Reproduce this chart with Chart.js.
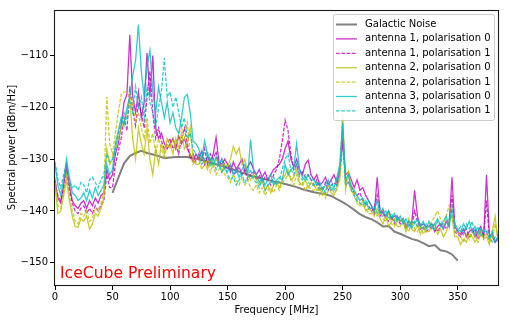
<!DOCTYPE html>
<html>
<head>
<meta charset="utf-8">
<script src="https://cdn.jsdelivr.net/npm/chart.js@4.4.0/dist/chart.umd.min.js"></script>
<style>
  html, body { margin: 0; padding: 0; background: #fff; }
</style>
</head>
<body>
<canvas id="spectrum" width="509" height="323"></canvas>
<script>
// =====================
// data
// =====================
const freq = [
  0, 2.5, 5, 7.5, 10, 12.5, 15, 17.5, 20, 22.5,
  25, 27.5, 30, 32.5, 35, 37.5, 40, 42.5, 45, 47.5,
  50, 52.5, 55, 57.5, 60, 62.5, 65, 67.5, 70, 72.5,
  75, 77.5, 80, 82.5, 85, 87.5, 90, 92.5, 95, 97.5,
  100, 102.5, 105, 107.5, 110, 112.5, 115, 117.5, 120, 122.5,
  125, 127.5, 130, 132.5, 135, 137.5, 140, 142.5, 145, 147.5,
  150, 152.5, 155, 157.5, 160, 162.5, 165, 167.5, 170, 172.5,
  175, 177.5, 180, 182.5, 185, 187.5, 190, 192.5, 195, 197.5,
  200, 202.5, 205, 207.5, 210, 212.5, 215, 217.5, 220, 222.5,
  225, 227.5, 230, 232.5, 235, 237.5, 240, 242.5, 245, 247.5,
  250, 252.5, 255, 257.5, 260, 262.5, 265, 267.5, 270, 272.5,
  275, 277.5, 280, 282.5, 285, 287.5, 290, 292.5, 295, 297.5,
  300, 302.5, 305, 307.5, 310, 312.5, 315, 317.5, 320, 322.5,
  325, 327.5, 330, 332.5, 335, 337.5, 340, 342.5, 345, 347.5,
  350, 352.5, 355, 357.5, 360, 362.5, 365, 367.5, 370, 372.5,
  375, 377.5, 380, 382.5, 385
];

const galFreq = [
  50, 55, 60, 65, 70, 75, 80, 85, 90, 95,
  100, 105, 110, 115, 120, 125, 130, 135, 140, 145,
  150, 155, 160, 165, 170, 175, 180, 185, 190, 195,
  200, 205, 210, 215, 220, 225, 230, 235, 240, 245,
  250, 255, 260, 265, 270, 275, 280, 285, 290, 295,
  300, 305, 310, 315, 320, 325, 330, 335, 340, 345, 350
];

const galacticNoise = [
  -136.5, -133.6, -130.8, -129.4, -128.8, -128.4, -128.8, -129.1, -129.4, -129.8,
  -129.7, -129.6, -129.6, -129.6, -129.8, -130.0, -130.3, -130.7, -131.0, -131.3,
  -131.6, -132.0, -132.4, -132.8, -133.2, -133.5, -133.8, -134.0, -134.3, -134.5,
  -134.8, -135.1, -135.4, -135.8, -136.1, -136.4, -136.6, -136.8, -137.1, -137.7,
  -138.3, -139.0, -139.8, -140.6, -141.2, -141.6, -142.2, -143.0, -142.9, -144.0,
  -144.4, -144.9, -145.4, -145.7, -146.2, -146.8, -146.6, -147.6, -147.8, -148.4, -149.6
];

const ant1pol0 = [
  -134, -137.5, -138.5, -135, -131, -135, -138, -139, -139.5, -138.5,
  -138, -139.5, -138, -139, -137.5, -138.5, -137, -136.5, -132, -134,
  -133, -129, -127, -123.5, -119, -117.5, -106, -118, -121, -117,
  -122, -119, -109.5, -118, -110, -124, -126, -125, -127, -128,
  -127, -126, -128, -125.5, -127, -126, -128, -129, -130.5, -129,
  -130, -128.5, -131, -129.5, -130.5, -129, -125.8, -130.5, -131, -130,
  -131, -132.5, -130.5, -132, -131, -130, -132.5, -131.5, -130.5, -132,
  -133, -132, -133.5, -132.5, -134, -133, -132, -131.5, -131, -130,
  -128, -126.5, -130, -131.5, -130, -132, -133, -131, -130.2, -133,
  -134, -133, -135, -134.5, -133.5, -135, -134, -133, -134.5, -132,
  -126, -133, -132.5, -134, -135.5, -134, -136, -135.5, -137, -138,
  -139, -140.5, -133.5, -140, -140.5, -141, -140, -141.5, -141, -141,
  -142, -141.5, -143, -142, -142.5, -136, -141, -143, -142.5, -143,
  -143, -142.5, -144, -143, -142.5, -143.5, -142, -143, -133.5, -143,
  -144, -144.5, -143.5, -145, -144, -143.5, -145, -144, -143, -145,
  -133, -144.5, -145, -146, -145.5
];

const ant1pol1 = [
  -134.5, -137, -138, -136, -132.5, -136, -138.5, -140, -140.5, -139.5,
  -139, -140.5, -139.5, -140.5, -139, -140, -139, -138, -133, -135.5,
  -135.5, -131, -128.5, -126, -122, -124.5, -116, -120.5, -123.5, -119,
  -121, -124, -118, -113, -121, -126, -124, -126.5, -128, -127,
  -126, -128, -127, -129, -126, -124, -127, -130, -129, -130.5,
  -129, -130.5, -128, -131, -129, -130, -128.5, -131.5, -130, -131,
  -132, -131, -133, -132.5, -131.5, -133, -132, -134, -133, -132.5,
  -134, -133, -134.5, -133.5, -134, -135, -133, -132, -130, -126.5,
  -122.5, -124.5, -129, -132, -131, -133, -132.5, -133.5, -133, -134,
  -135, -134, -135.5, -136, -134.5, -136, -135, -134.5, -135, -133,
  -127, -134, -134.5, -135, -136.5, -137, -136.5, -138, -138.5, -139,
  -140, -139.5, -137, -141, -140, -141.5, -142, -141, -142.5, -141.5,
  -142.5, -142, -143.5, -142.5, -143, -140, -142, -143.5, -143, -144,
  -143.5, -143, -142.5, -144, -143, -142.5, -143.5, -142.5, -137, -144,
  -144.5, -145, -144, -143.5, -145, -144.5, -143.5, -145.5, -144, -145,
  -138, -145, -144.5, -146, -145
];

const ant2pol0 = [
  -135, -140.5, -140, -137, -134, -138, -141, -143, -143.2, -141.5,
  -142, -141, -143.5, -142.5, -140.5, -141, -139.5, -137.5, -128, -131,
  -130, -128, -126, -124, -123, -121, -118, -126, -130, -124,
  -127, -129, -124, -130, -133, -128, -131, -127, -129, -126,
  -127, -129, -126, -128, -125, -128, -127, -124, -130, -131,
  -131, -129.5, -130.5, -132, -130, -131.5, -130, -131, -132.5, -131,
  -131.5, -130, -127.5, -129, -127.8, -131, -130, -133, -134, -133,
  -134, -135, -134, -136, -135, -136.5, -135, -134.5, -135.5, -134,
  -133, -132, -134, -133.5, -132, -134.5, -135, -134, -135.5, -134.5,
  -135, -136, -135.5, -137, -136, -135, -136.5, -137, -135.5, -134,
  -122, -135, -132.5, -136, -137, -138.5, -139, -138, -140, -139.5,
  -140, -141, -139.5, -141.5, -142.5, -141, -143, -142, -141.5, -143,
  -143, -142, -144, -141.5, -143.5, -144, -142.5, -144.5, -143, -144,
  -144, -143, -142.5, -144.5, -143.5, -145, -144, -142, -141, -145,
  -145, -146.5, -145.5, -146, -144.5, -145, -146, -145, -144, -145.5,
  -145, -146.5, -144, -141, -146
];

const ant2pol1 = [
  -133.5, -139, -139.5, -136.5, -133, -137, -140, -142, -142.5, -140.5,
  -141, -140, -142, -141.5, -139.5, -140, -138.5, -136, -118, -127,
  -129, -125, -121, -117.5, -117, -117, -118, -119, -123, -121,
  -124, -126, -122, -127, -125, -129, -126, -128, -130, -127,
  -128, -126, -127.5, -125, -124, -126, -123, -129, -131, -130,
  -130, -132, -131, -130, -132.5, -131, -133, -132, -131, -133,
  -133.5, -134.5, -133, -134, -135, -133.5, -135, -134, -135.5, -136,
  -135, -136.5, -135.5, -137, -136, -135.5, -136.5, -135, -136, -134.5,
  -134, -133, -133.5, -135, -133, -135, -134.5, -136, -135, -136,
  -136, -135, -137, -136, -137.5, -136, -135.5, -136.5, -136, -133,
  -121.1, -136, -133, -135, -136.5, -137.5, -138.5, -139, -139.5, -140.5,
  -140.5, -140, -141, -140, -141.5, -142, -140.5, -142.5, -143, -141.5,
  -142, -141.5, -143, -144, -142, -143.5, -144, -143, -144.5, -143.5,
  -143, -142, -141, -140, -141.5, -143, -141, -139, -140.5, -144,
  -144, -145, -146, -144.5, -145.5, -144, -145, -146, -144.5, -145,
  -144.5, -146, -145.5, -142.5, -145
];

const ant3pol0 = [
  -131, -135, -137, -134, -130, -133.5, -136.5, -137, -138, -137.5,
  -136.5, -138, -136, -137.5, -135.5, -137, -136, -135, -131, -133,
  -132, -127, -124.5, -122, -123.5, -120, -118, -114, -111, -104,
  -113, -118, -112, -109, -117, -121, -116, -119, -122, -119,
  -123, -121, -124, -125, -122, -118, -117.5, -121, -126.5, -127,
  -128, -130, -126.5, -129, -130, -131, -129.5, -131, -130, -132,
  -132.5, -131, -133, -132, -133.5, -132, -131, -133, -126.2, -132,
  -133, -134.5, -133.5, -135, -134, -133, -135, -134, -133.5, -134,
  -131, -133, -132, -131.5, -127, -132, -133.5, -134, -133, -134,
  -134, -135, -134.5, -136, -135, -134, -136, -135.5, -133.5, -131,
  -123, -134, -133, -135.5, -136, -137, -138, -137.5, -139, -138,
  -139, -140, -138, -140.5, -139.5, -141, -140, -141.5, -140.5, -142,
  -141, -142.5, -141.5, -143, -142, -142.5, -141.5, -143, -142, -143.5,
  -142, -143.5, -142.5, -141.5, -143, -142, -141, -143, -139.5, -142.5,
  -143.5, -144, -142.5, -143.5, -142, -144, -143, -144.5, -143.5, -144,
  -144, -145.5, -144, -146, -145
];

const ant3pol1 = [
  -130.5, -134, -135.5, -133, -131, -134, -135.5, -135, -136, -134.5,
  -135, -136.5, -134, -133.5, -134.5, -135.5, -134, -133, -129, -130.5,
  -130, -128, -125, -123, -121, -122.5, -119, -121, -116, -120,
  -118, -122, -116, -119, -121, -124, -120, -117, -110.5, -118,
  -117, -120, -118, -121, -124, -122, -126, -125, -128, -129,
  -129.5, -131, -130, -128.5, -131.5, -130, -132, -131, -132.5, -131.5,
  -133, -134, -133.5, -135, -134, -133, -134.5, -133.5, -132, -134,
  -134.5, -135.5, -134, -136, -135, -134.5, -133.5, -135, -134, -132,
  -130, -129, -132, -133, -131, -133.5, -134, -133, -134.5, -135,
  -135, -134.5, -136, -135.5, -136.5, -135, -134, -136, -135, -132,
  -124.5, -135, -134.5, -136, -137, -138, -138.5, -139, -138, -139.5,
  -139.5, -139, -140.5, -139.5, -141, -140, -141.5, -140.5, -142, -141,
  -142, -141.5, -142.5, -142, -143.5, -142, -143, -142.5, -143.5, -142.5,
  -143, -142.5, -143.5, -142, -142.5, -143.5, -142, -141.5, -140, -143,
  -144, -143, -144.5, -142.5, -143.5, -142, -144.5, -143, -145, -144,
  -143.5, -145, -146, -145, -144.5
];

const xTicks = [0, 50, 100, 150, 200, 250, 300, 350];
const yTicks = [-150, -140, -130, -120, -110];

// =====================
// series styles
// =====================
const DASH = [3.7, 1.6];
const series = [
  { label: 'Galactic Noise', x: galFreq, y: galacticNoise, color: 'rgb(128,128,128)', width: 2, dash: [] },
  { label: 'antenna 1, polarisation 0', x: freq, y: ant1pol0, color: 'rgba(191,0,191,0.8)', width: 1.3, dash: [] },
  { label: 'antenna 1, polarisation 1', x: freq, y: ant1pol1, color: 'rgba(191,0,191,0.8)', width: 1.3, dash: DASH },
  { label: 'antenna 2, polarisation 0', x: freq, y: ant2pol0, color: 'rgba(191,191,0,0.8)', width: 1.3, dash: [] },
  { label: 'antenna 2, polarisation 1', x: freq, y: ant2pol1, color: 'rgba(191,191,0,0.8)', width: 1.3, dash: DASH },
  { label: 'antenna 3, polarisation 0', x: freq, y: ant3pol0, color: 'rgba(0,191,191,0.8)', width: 1.3, dash: [] },
  { label: 'antenna 3, polarisation 1', x: freq, y: ant3pol1, color: 'rgba(0,191,191,0.8)', width: 1.3, dash: DASH },
];

const datasets = series.map((s, i) => ({
  label: s.label,
  data: s.x.map((f, k) => ({ x: f, y: s.y[k] })),
  borderColor: s.color,
  borderWidth: s.width,
  borderDash: s.dash,
  pointRadius: 0,
  tension: 0,
  fill: false,
  order: series.length - i, // later series drawn on top, like matplotlib
}));

// frame, legend box and label drawn on the chart canvas
const decorations = {
  id: 'decorations',
  afterDraw(chart) {
    const { ctx, chartArea: a } = chart;
    ctx.save();

    // full axes frame
    ctx.strokeStyle = '#1a1a1a';
    ctx.lineWidth = 1.1;
    ctx.setLineDash([]);
    ctx.strokeRect(a.left - 0.5, a.top + 0.5, a.right - a.left + 1, a.bottom - a.top);

    // watermark
    ctx.fillStyle = '#ff0000';
    ctx.font = '15.6px "DejaVu Sans"';
    ctx.textAlign = 'left';
    ctx.textBaseline = 'alphabetic';
    ctx.fillText('IceCube Preliminary', a.left + 5, a.bottom - 7.3);

    // legend (upper right, inside the axes)
    const w = 161, h = 106;
    const bx = a.right - 4 - w, by = a.top + 4;
    ctx.beginPath();
    ctx.roundRect(bx + 0.5, by + 0.5, w, h, 2);
    ctx.fillStyle = 'rgba(255,255,255,0.85)';
    ctx.fill();
    ctx.strokeStyle = '#cccccc';
    ctx.lineWidth = 1;
    ctx.stroke();

    ctx.font = '10px "DejaVu Sans"';
    ctx.textBaseline = 'middle';
    series.forEach((s, i) => {
      const cy = by + 10.5 + i * 14.4;
      ctx.beginPath();
      ctx.setLineDash(s.dash);
      ctx.strokeStyle = s.color;
      ctx.lineWidth = s.width;
      ctx.moveTo(bx + 3, cy);
      ctx.lineTo(bx + 24, cy);
      ctx.stroke();
      ctx.setLineDash([]);
      ctx.fillStyle = '#000';
      ctx.fillText(s.label, bx + 32, cy);
    });
    ctx.restore();
  }
};

Chart.defaults.font.family = '"DejaVu Sans", sans-serif';
Chart.defaults.font.size = 10;
Chart.defaults.color = '#000';

new Chart(document.getElementById('spectrum'), {
  type: 'line',
  data: { datasets },
  plugins: [decorations],
  options: {
    responsive: false,
    animation: false,
    devicePixelRatio: 1,
    layout: { padding: { top: 10, right: 11, left: 0, bottom: 0 } },
    plugins: {
      legend: { display: false },
      tooltip: { enabled: false },
    },
    scales: {
      x: {
        type: 'linear',
        min: 0,
        max: 385,
        afterBuildTicks: s => { s.ticks = xTicks.map(v => ({ value: v })); },
        afterFit: s => { s.height = 38; },
        grid: { drawOnChartArea: false, tickLength: 5, tickColor: '#000', tickWidth: 1 },
        border: { display: false },
        ticks: { autoSkip: false, maxRotation: 0, padding: 1, color: '#000' },
        title: { display: true, text: 'Frequency [MHz]', color: '#000', padding: { top: 0, bottom: 7 } },
      },
      y: {
        type: 'linear',
        min: -154.3,
        max: -101.2,
        afterBuildTicks: s => { s.ticks = yTicks.map(v => ({ value: v })); },
        afterFit: s => { s.width = 55; },
        grid: { drawOnChartArea: false, tickLength: 5, tickColor: '#000', tickWidth: 1 },
        border: { display: false },
        ticks: {
          autoSkip: false,
          padding: 2,
          color: '#000',
          callback: v => String(v).replace('-', '\u2212'),
        },
        title: { display: true, text: 'Spectral power [dBm/Hz]', color: '#000', padding: { top: 6.5, bottom: 0 } },
      },
    },
  },
});
</script>
</body>
</html>
